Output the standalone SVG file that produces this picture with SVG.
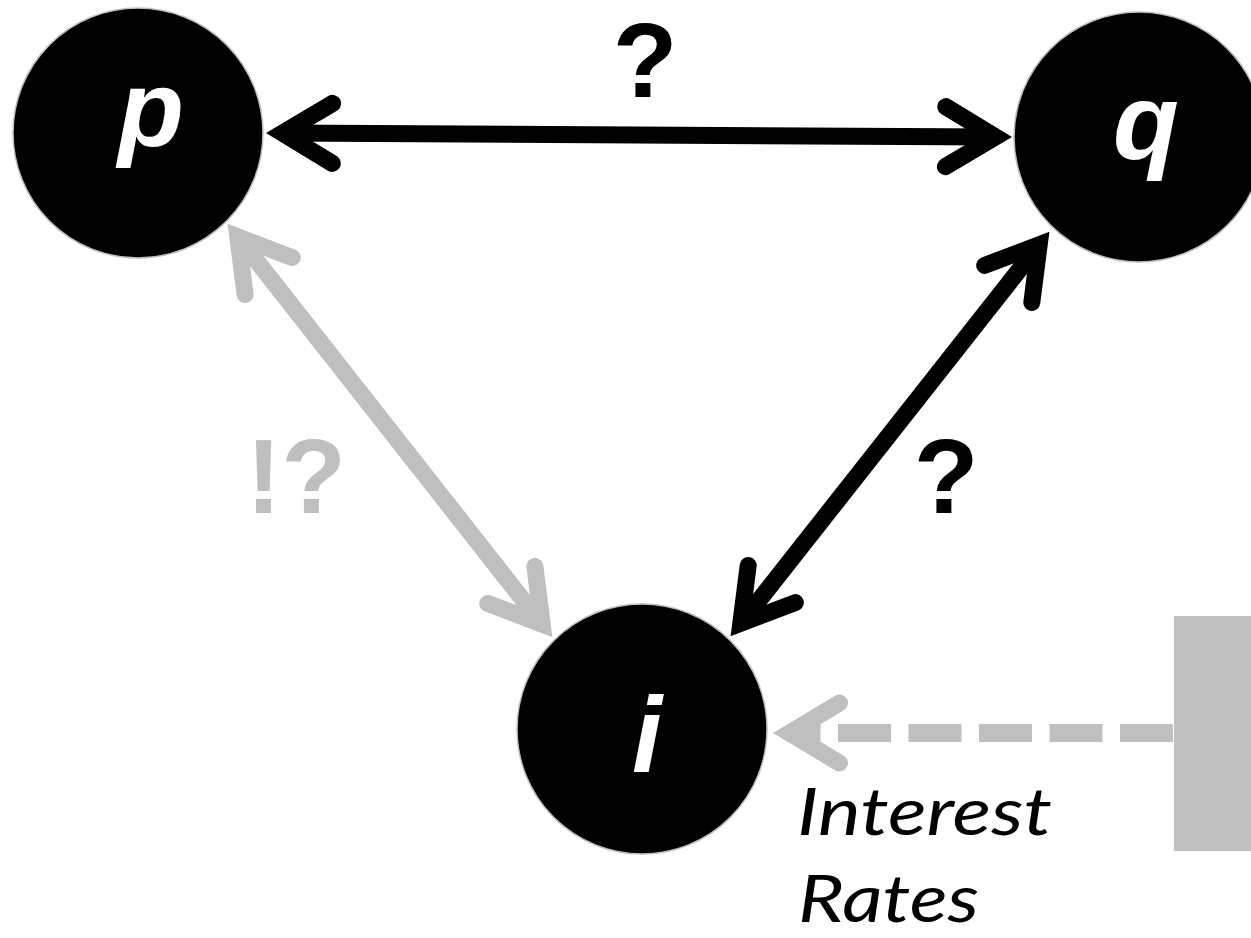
<svg xmlns="http://www.w3.org/2000/svg" width="1251" height="938" viewBox="0 0 1251 938">
<style>
.node{fill:#000;stroke:#bfbfbf;stroke-width:1.5}
.lbl{font-family:"Liberation Sans",Arial,sans-serif;font-weight:bold;font-style:italic;font-size:108px;fill:#fff;text-anchor:middle}
.q{font-family:"Liberation Sans",Arial,sans-serif;font-weight:bold;font-size:106px;text-anchor:middle}
.cap{font-family:Lato,"Open Sans",sans-serif;font-style:italic;font-size:66px;fill:#000}
.blk{fill:none;stroke:#000;stroke-width:17}
.gry{fill:none;stroke:#bfbfbf;stroke-width:17}
</style>
<defs>
<marker id="ab" viewBox="-80 -50 120 100" markerWidth="120" markerHeight="100" refX="0" refY="0" markerUnits="userSpaceOnUse" orient="auto-start-reverse" overflow="visible">
<path d="M-50,-30 L0,0 L-50,30" fill="none" stroke="#000" stroke-width="17" stroke-linejoin="miter" stroke-linecap="round"/>
</marker>
<marker id="ag" viewBox="-80 -50 120 100" markerWidth="120" markerHeight="100" refX="0" refY="0" markerUnits="userSpaceOnUse" orient="auto-start-reverse" overflow="visible">
<path d="M-50,-30 L0,0 L-50,30" fill="none" stroke="#bfbfbf" stroke-width="17" stroke-linejoin="miter" stroke-linecap="round"/>
</marker>
</defs>
<rect x="1174" y="616" width="80" height="235" fill="#bfbfbf"/>
<g id="connectors">
<path class="blk" d="M282.5,133.1 L995.5,136.9" marker-start="url(#ab)" marker-end="url(#ab)"/>
<path class="blk" d="M740.8,623.3 L1039.2,244.7" marker-start="url(#ab)" marker-end="url(#ab)"/>
<path class="gry" d="M237.8,236.8 L542.2,624.2" marker-start="url(#ag)" marker-end="url(#ag)"/>
<path fill="none" stroke="#bfbfbf" stroke-width="18" stroke-dasharray="53 17.5" d="M1173,733 L789.5,733" marker-end="url(#ag)"/>
</g>
<g id="node-p">
<circle class="node" cx="138" cy="133" r="125"/>
<text class="lbl" x="151" y="146">p</text>
</g>
<g id="node-q">
<circle class="node" cx="1139" cy="137" r="125"/>
<text class="lbl" x="1146" y="159">q</text>
</g>
<g id="node-i">
<circle class="node" cx="642" cy="729" r="125"/>
<text class="lbl" x="647" y="772">i</text>
</g>
<text class="q" x="645" y="97" fill="#000">?</text>
<text class="q" x="946" y="513" fill="#000">?</text>
<text class="q" x="296" y="513" fill="#bfbfbf">!?</text>
<text class="cap" x="797" y="835" textLength="255" lengthAdjust="spacingAndGlyphs">Interest</text>
<text class="cap" x="798" y="922" textLength="181" lengthAdjust="spacingAndGlyphs">Rates</text>
</svg>
